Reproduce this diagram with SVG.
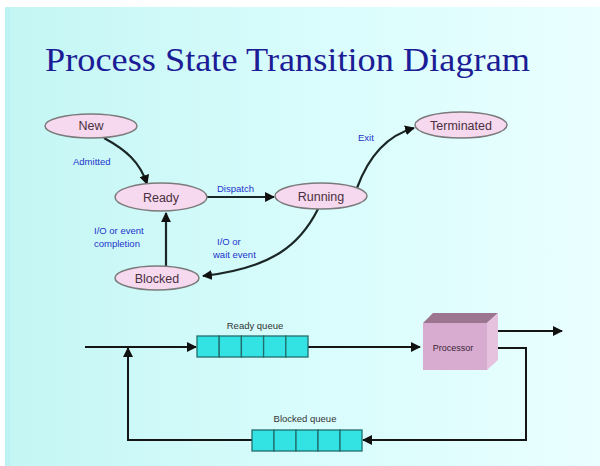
<svg xmlns="http://www.w3.org/2000/svg" width="600" height="466" viewBox="0 0 600 466">
  <defs>
    <linearGradient id="bg" x1="0" y1="0" x2="1" y2="0">
      <stop offset="0" stop-color="#c4f6f4"/>
      <stop offset="0.5" stop-color="#d8fcfc"/>
      <stop offset="1" stop-color="#eaffff"/>
    </linearGradient>
    <marker id="arr" viewBox="0 0 10 10" refX="9" refY="5" markerWidth="4.5" markerHeight="4.5" orient="auto" markerUnits="strokeWidth">
      <path d="M0,0 L10,5 L0,10 Z" fill="#111"/>
    </marker>
    <marker id="arrq" viewBox="0 0 10 10" refX="9" refY="5" markerWidth="5.5" markerHeight="5" orient="auto" markerUnits="strokeWidth">
      <path d="M0,0 L10,5 L0,10 Z" fill="#111"/>
    </marker>
  </defs>
  <style>
    .state { fill: #f6d8ef; stroke: #7a7a7a; stroke-width: 1.5; }
    .stext { font-family: "Liberation Sans", Arial, sans-serif; font-size: 12.5px; fill: #4a3040; text-anchor: middle; }
    .lbl { font-family: "Liberation Sans", Arial, sans-serif; font-size: 9.5px; fill: #2233cc; }
    .edge { fill: none; stroke: #1b2626; stroke-width: 2.2; marker-end: url(#arr); }
    .qline { fill: none; stroke: #151515; stroke-width: 2; }
    .qcell { fill: #33e2e2; stroke: #226e6e; stroke-width: 1.3; }
    .qlbl { font-family: "Liberation Sans", Arial, sans-serif; font-size: 9.5px; fill: #333; text-anchor: middle; }
  </style>

  <!-- backdrop -->
  <rect x="0" y="0" width="600" height="466" fill="#ffffff"/>
  <rect x="5" y="7" width="595" height="459" fill="url(#bg)"/>
  <rect x="5" y="7" width="5" height="459" fill="#b8f0ee" opacity="0.6"/>

  <!-- heading -->
  <text x="45" y="71" font-family="Liberation Serif, 'Times New Roman', serif" font-size="33" fill="#1c1c96" textLength="485" lengthAdjust="spacingAndGlyphs">Process State Transition Diagram</text>

  <!-- state transitions -->
  <g id="transitions">
    <path class="edge" d="M104,138 C126,150 140,162 147,184"/>
    <path class="edge" d="M207,197 L274,197"/>
    <path class="edge" d="M357,188 C368,158 385,136 414,128"/>
    <path class="edge" d="M318,209 C300,245 272,268 203,276"/>
    <path class="edge" d="M166,266 L166,213"/>
  </g>

  <g id="transition-labels">
    <text class="lbl" x="73" y="165">Admitted</text>
    <text class="lbl" x="217" y="192">Dispatch</text>
    <text class="lbl" x="358" y="141">Exit</text>
    <text class="lbl" x="94" y="234">I/O or event</text>
    <text class="lbl" x="94" y="247">completion</text>
    <text class="lbl" x="217" y="245">I/O or</text>
    <text class="lbl" x="213" y="258">wait event</text>
  </g>

  <g id="state-new">
    <ellipse class="state" cx="91" cy="126" rx="46" ry="12"/>
    <text class="stext" x="91" y="130">New</text>
  </g>
  <g id="state-ready">
    <ellipse class="state" cx="161" cy="197" rx="46" ry="14"/>
    <text class="stext" x="161" y="201.5">Ready</text>
  </g>
  <g id="state-running">
    <ellipse class="state" cx="321" cy="196" rx="46" ry="13"/>
    <text class="stext" x="321" y="200.5">Running</text>
  </g>
  <g id="state-terminated">
    <ellipse class="state" cx="461" cy="125" rx="46" ry="13"/>
    <text class="stext" x="461" y="129.5">Terminated</text>
  </g>
  <g id="state-blocked">
    <ellipse class="state" cx="157" cy="278" rx="42" ry="12"/>
    <text class="stext" x="157" y="282.5">Blocked</text>
  </g>

  <!-- queueing model -->
  <g id="queue-links">
    <path class="qline" d="M85,347 L196,347" marker-end="url(#arrq)"/>
    <path class="qline" d="M308,347 L420,347" marker-end="url(#arrq)"/>
    <path class="qline" d="M493,331 L562,331" marker-end="url(#arrq)"/>
    <path class="qline" d="M493,348 L526,348 L526,440 L363,440" marker-end="url(#arrq)"/>
    <path class="qline" d="M252,440 L128,440 L128,348" marker-end="url(#arrq)"/>
  </g>

  <g id="ready-queue">
    <rect class="qcell" x="197" y="336" width="22.2" height="21"/>
    <rect class="qcell" x="219.2" y="336" width="22.2" height="21"/>
    <rect class="qcell" x="241.4" y="336" width="22.2" height="21"/>
    <rect class="qcell" x="263.6" y="336" width="22.2" height="21"/>
    <rect class="qcell" x="285.8" y="336" width="22.2" height="21"/>
    <text class="qlbl" x="255" y="329">Ready queue</text>
  </g>

  <g id="blocked-queue">
    <rect class="qcell" x="252" y="430" width="22" height="21"/>
    <rect class="qcell" x="274" y="430" width="22" height="21"/>
    <rect class="qcell" x="296" y="430" width="22" height="21"/>
    <rect class="qcell" x="318" y="430" width="22" height="21"/>
    <rect class="qcell" x="340" y="430" width="22" height="21"/>
    <text class="qlbl" x="305" y="422">Blocked queue</text>
  </g>

  <g id="processor">
    <polygon points="423,323 433,313 498,313 487,323" fill="#9c7590"/>
    <polygon points="487,323 498,313 498,360 487,370" fill="#e6c2df"/>
    <rect x="423" y="323" width="64" height="47" fill="#d8acd0"/>
    <text x="453" y="351" font-family="Liberation Sans, Arial, sans-serif" font-size="9" fill="#3a2535" text-anchor="middle">Processor</text>
  </g>
</svg>
